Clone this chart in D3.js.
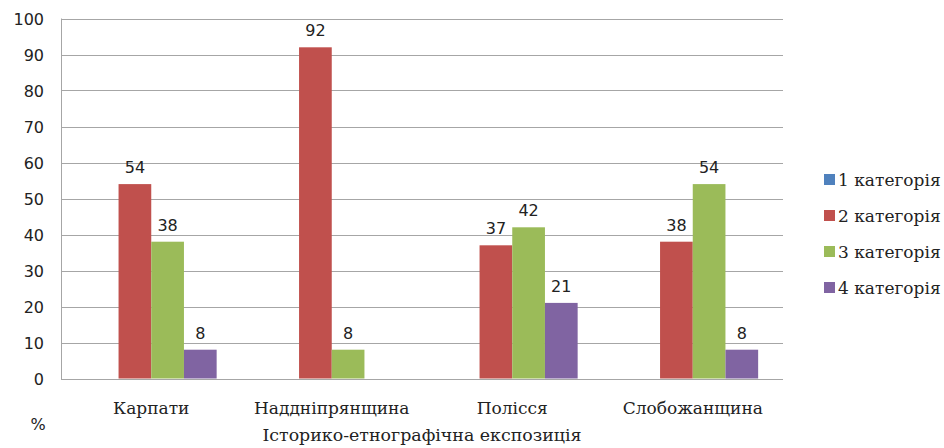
<!DOCTYPE html>
<html>
<head>
<meta charset="utf-8">
<script src="https://cdn.jsdelivr.net/npm/d3@7"></script>
<style>
  body { margin: 0; background: #fff; }
  .serif { font-family: "DejaVu Serif", "Liberation Serif", serif; }
  .sans { font-family: "DejaVu Sans", Verdana, sans-serif; }
</style>
</head>
<body>
<script>
var regions = ["Карпати", "Наддніпрянщина", "Полісся", "Слобожанщина"];
var seriesNames = ["1 категорія", "2 категорія", "3 категорія", "4 категорія"];
var cat1 = [0, 0, 0, 0];
var cat2 = [54, 92, 37, 38];
var cat3 = [38, 8, 42, 54];
var cat4 = [8, 0, 21, 8];
var yTicks = [0, 10, 20, 30, 40, 50, 60, 70, 80, 90, 100];
var colors = ["#4F81BD", "#C0504D", "#9BBB59", "#8064A2"];

var allSeries = [cat1, cat2, cat3, cat4];

var w = 944, h = 448;
var plotL = 61, plotR = 783, plotT = 18.5, plotB = 378.5;

var svg = d3.select("body").append("svg")
  .attr("width", w).attr("height", h);

var x = d3.scaleBand().domain(regions).range([plotL, plotR]);
var xInner = d3.scaleBand().domain(seriesNames)
  .range([0, x.bandwidth()]).paddingOuter(0.76);
var y = d3.scaleLinear().domain([0, 100]).range([plotB, plotT]);

// gridlines
svg.selectAll("line.grid")
  .data(yTicks)
  .enter().append("line")
  .attr("class", "grid")
  .attr("x1", plotL).attr("x2", plotR)
  .attr("y1", d => Math.round(y(d)) + 0.5)
  .attr("y2", d => Math.round(y(d)) + 0.5)
  .attr("stroke", "#a6a6a6").attr("stroke-width", 1);

svg.append("line")
  .attr("x1", plotL + 0.5).attr("x2", plotL + 0.5)
  .attr("y1", plotT).attr("y2", plotB + 0.5)
  .attr("stroke", "#a6a6a6");

// y tick labels
svg.selectAll("text.ytick")
  .data(yTicks)
  .enter().append("text")
  .attr("class", "ytick sans")
  .attr("x", 44).attr("y", d => y(d) + 6)
  .attr("text-anchor", "end")
  .attr("font-size", 16)
  .attr("fill", "#222")
  .text(d => d);

var bars = [];
regions.forEach(function(r, i) {
  allSeries.forEach(function(s, j) {
    bars.push({region: r, series: seriesNames[j], value: s[i], color: colors[j]});
  });
});

svg.selectAll("rect.bar")
  .data(bars.filter(d => d.value > 0))
  .enter().append("rect")
  .attr("class", "bar")
  .attr("x", d => x(d.region) + xInner(d.series))
  .attr("width", xInner.bandwidth())
  .attr("y", d => y(d.value))
  .attr("height", d => y(0) - y(d.value))
  .attr("fill", d => d.color);

svg.selectAll("text.val")
  .data(bars.filter(d => d.value > 0))
  .enter().append("text")
  .attr("class", "val sans")
  .attr("x", d => x(d.region) + xInner(d.series) + xInner.bandwidth() / 2)
  .attr("y", d => y(d.value) - 11)
  .attr("text-anchor", "middle")
  .attr("font-size", 16)
  .attr("fill", "#222")
  .text(d => d.value);

// category labels
svg.selectAll("text.cat")
  .data(regions)
  .enter().append("text")
  .attr("class", "cat serif")
  .attr("x", d => x(d) + x.bandwidth() / 2)
  .attr("y", 414)
  .attr("text-anchor", "middle")
  .attr("font-size", 17)
  .attr("fill", "#222")
  .text(d => d);

svg.append("text")
  .attr("class", "serif")
  .attr("x", (plotL + plotR) / 2).attr("y", 441)
  .attr("text-anchor", "middle")
  .attr("font-size", 17.4)
  .attr("fill", "#222")
  .text("Історико-етнографічна експозиція");

svg.append("text")
  .attr("class", "sans")
  .attr("x", 38).attr("y", 430)
  .attr("text-anchor", "middle")
  .attr("font-size", 16)
  .attr("fill", "#222")
  .text("%");

// legend
var legend = svg.selectAll("g.leg")
  .data(seriesNames)
  .enter().append("g")
  .attr("class", "leg")
  .attr("transform", (d, i) => "translate(824," + (180 + i * 36) + ")");

legend.append("rect")
  .attr("x", 0).attr("y", -6)
  .attr("width", 11).attr("height", 11)
  .attr("fill", (d, i) => colors[i]);

legend.append("text")
  .attr("class", "serif")
  .attr("x", 14).attr("y", 6)
  .attr("font-size", 17)
  .attr("fill", "#222")
  .text(d => d);
</script>
</body>
</html>
